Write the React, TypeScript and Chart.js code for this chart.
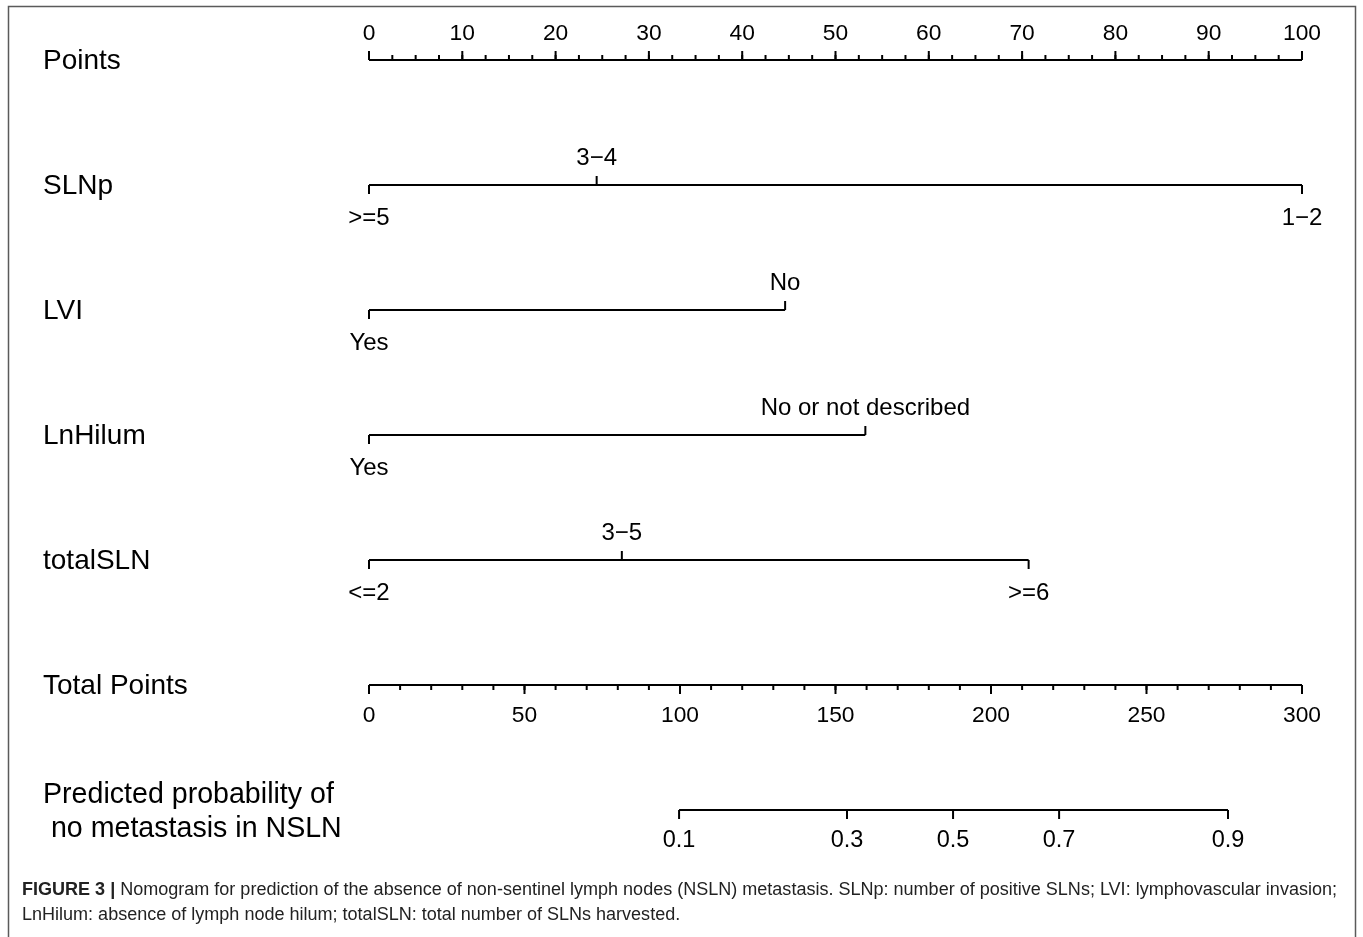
import React, { useEffect, useRef } from "react";
import { Chart, registerables } from "chart.js";

Chart.register(...registerables);

// ---- Data ----
const pointsTicks = [0, 10, 20, 30, 40, 50, 60, 70, 80, 90, 100];
const pointsMinorStep = 2.5;

const slnpLevels = [">=5", "3\u22124", "1\u22122"];
const slnpPoints = [0, 24.4, 100];
const slnpAbove = [false, true, false];

const lviLevels = ["Yes", "No"];
const lviPoints = [0, 44.6];
const lviAbove = [false, true];

const lnHilumLevels = ["Yes", "No or not described"];
const lnHilumPoints = [0, 53.2];
const lnHilumAbove = [false, true];

const totalSLNLevels = ["<=2", "3\u22125", ">=6"];
const totalSLNPoints = [0, 27.1, 70.7];
const totalSLNAbove = [false, true, false];

const totalPointsTicks = [0, 50, 100, 150, 200, 250, 300];
const totalPointsMinorStep = 10;

const probTickLabels = ["0.1", "0.3", "0.5", "0.7", "0.9"];
const probTickTotalPoints = [99.7, 153.7, 187.8, 221.9, 276.2];

const rowTitles = ["Points", "SLNp", "LVI", "LnHilum", "totalSLN", "Total Points"];
const probTitle = ["Predicted probability of", " no metastasis in NSLN"];

const captionBold = "FIGURE 3 |";
const captionLine1 =
  " Nomogram for prediction of the absence of non-sentinel lymph nodes (NSLN) metastasis. SLNp: number of positive SLNs; LVI: lymphovascular invasion;";
const captionLine2 =
  "LnHilum: absence of lymph node hilum; totalSLN: total number of SLNs harvested.";

const variables = [
  { levels: slnpLevels, points: slnpPoints, above: slnpAbove, row: 1 },
  { levels: lviLevels, points: lviPoints, above: lviAbove, row: 2 },
  { levels: lnHilumLevels, points: lnHilumPoints, above: lnHilumAbove, row: 3 },
  { levels: totalSLNLevels, points: totalSLNPoints, above: totalSLNAbove, row: 4 },
];

const FONT = "'Liberation Sans', Arial, Helvetica, sans-serif";

const seg = (x0: number, x1: number, row: number) => [
  { x: x0, y: row },
  { x: x1, y: row },
];

export default function App() {
  const ref = useRef<HTMLCanvasElement | null>(null);

  useEffect(() => {
    if (!ref.current) return;
    const lineDs = (data: any[], xAxisID = "x") => ({
      type: "line" as const,
      data,
      xAxisID,
      yAxisID: "y",
      borderColor: "#000",
      borderWidth: 2,
      pointRadius: 0,
      fill: false,
      tension: 0,
    });

    const nomoPlugin = {
      id: "nomo",
      afterDraw(chart: any) {
        const ctx = chart.ctx as CanvasRenderingContext2D;
        const xs = chart.scales.x;
        const x2 = chart.scales.x2;
        const ys = chart.scales.y;
        ctx.save();

        // frame
        ctx.strokeStyle = "#5a5a5a";
        ctx.lineWidth = 1.5;
        ctx.strokeRect(8.5, 6.5, 1347, 1000);

        ctx.strokeStyle = "#000";
        ctx.fillStyle = "#000";
        ctx.lineWidth = 2;
        ctx.textBaseline = "middle";

        const tick = (px: number, py: number, len: number) => {
          ctx.beginPath();
          ctx.moveTo(px, py);
          ctx.lineTo(px, py + len);
          ctx.stroke();
        };

        // Points axis
        const yP = ys.getPixelForValue(0);
        for (let v = 0; v <= 100 + 1e-9; v += pointsMinorStep) {
          tick(xs.getPixelForValue(v), yP, -5);
        }
        ctx.font = `22.8px ${FONT}`;
        ctx.textAlign = "center";
        pointsTicks.forEach((v) => {
          const px = xs.getPixelForValue(v);
          tick(px, yP, -9);
          ctx.fillText(String(v), px, yP - 26);
        });

        // Variables
        ctx.font = `24px ${FONT}`;
        variables.forEach((vr) => {
          const py = ys.getPixelForValue(vr.row);
          vr.points.forEach((p, i) => {
            const px = xs.getPixelForValue(p);
            const up = vr.above[i];
            tick(px, py, up ? -9 : 9);
            ctx.fillText(vr.levels[i], px, up ? py - 27 : py + 33);
          });
        });

        // Total points axis
        const yT = ys.getPixelForValue(5);
        for (let v = 0; v <= 300 + 1e-9; v += totalPointsMinorStep) {
          tick(x2.getPixelForValue(v), yT, 5);
        }
        ctx.font = `22.8px ${FONT}`;
        totalPointsTicks.forEach((v) => {
          const px = x2.getPixelForValue(v);
          tick(px, yT, 9);
          ctx.fillText(String(v), px, yT + 31);
        });

        // Probability axis
        ctx.font = `23.5px ${FONT}`;
        const yPr = ys.getPixelForValue(6);
        probTickTotalPoints.forEach((v, i) => {
          const px = x2.getPixelForValue(v);
          tick(px, yPr, 9);
          ctx.fillText(probTickLabels[i], px, yPr + 31);
        });

        // Row titles
        ctx.font = `28px ${FONT}`;
        ctx.textAlign = "left";
        rowTitles.forEach((t, i) => {
          ctx.fillText(t, 43, ys.getPixelForValue(i) + 1);
        });
        ctx.font = `28.6px ${FONT}`;
        ctx.fillText(probTitle[0], 43, yPr - 15);
        ctx.fillText(probTitle[1], 43, yPr + 19);

        // Caption
        ctx.fillStyle = "#222";
        const capFont = `17.5px ${FONT}`;
        const capBold = `bold 17.5px ${FONT}`;
        ctx.font = capBold;
        const wb = ctx.measureText(captionBold).width;
        ctx.font = capFont;
        const w1 = ctx.measureText(captionLine1).width;
        const target = 1337 - 22;
        const sx = target / (wb + w1);
        ctx.save();
        ctx.translate(22, 0);
        ctx.scale(sx, 1);
        ctx.font = capBold;
        ctx.fillText(captionBold, 0, 890);
        ctx.font = capFont;
        ctx.fillText(captionLine1, wb, 890);
        ctx.fillText(captionLine2, 0, 915);
        ctx.restore();

        ctx.restore();
      },
    };

    const chart = new Chart(ref.current, {
      type: "line",
      data: {
        datasets: [
          lineDs(seg(0, 100, 0)),
          lineDs(seg(slnpPoints[0], slnpPoints[slnpPoints.length - 1], 1)),
          lineDs(seg(lviPoints[0], lviPoints[lviPoints.length - 1], 2)),
          lineDs(seg(lnHilumPoints[0], lnHilumPoints[lnHilumPoints.length - 1], 3)),
          lineDs(seg(totalSLNPoints[0], totalSLNPoints[totalSLNPoints.length - 1], 4)),
          lineDs(seg(0, 300, 5), "x2"),
          lineDs(
            seg(probTickTotalPoints[0], probTickTotalPoints[probTickTotalPoints.length - 1], 6),
            "x2"
          ),
        ],
      },
      options: {
        animation: false,
        responsive: true,
        maintainAspectRatio: false,
        layout: { padding: { left: 369, right: 61, top: 0, bottom: 0 } },
        plugins: { legend: { display: false }, tooltip: { enabled: false }, title: { display: false } },
        scales: {
          x: { type: "linear", min: 0, max: 100, display: false },
          x2: { type: "linear", axis: "x", min: 0, max: 300, display: false },
          y: { type: "linear", min: -0.48, max: 7.016, reverse: true, display: false },
        },
      },
      plugins: [nomoPlugin],
    } as any);
    return () => chart.destroy();
  }, []);

  return (
    <div style={{ position: "absolute", left: 0, top: 0, width: 1363, height: 937, background: "#fff" }}>
      <canvas ref={ref} />
    </div>
  );
}
